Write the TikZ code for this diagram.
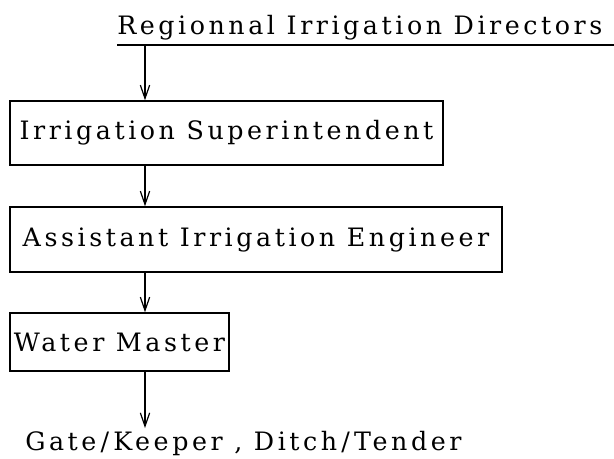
\documentclass[tikz,border=0pt]{standalone}
\usepackage{fontspec}
\setmainfont{DejaVu Serif}
\newfontfamily\orgfont[LetterSpace=14]{DejaVu Serif}
\usetikzlibrary{positioning, arrows.meta, calc}

\begin{document}
\begin{tikzpicture}[
    x=0.75pt, y=-0.75pt,
    post/.style={draw, line width=1.1pt, inner sep=0pt, align=center, font=\orgfont\fontsize{19}{23}\selectfont},
    caption/.style={inner sep=0pt, font=\orgfont\fontsize{19}{23}\selectfont},
    arr/.style={-{Straight Barb[length=10pt, width=7pt]}, line width=0.9pt}
]
\useasboundingbox (0,0) rectangle (614,458);

% Regional directors
\node[caption, anchor=base west] (dir) at (117,34) {Regionnal Irrigation Directors};
\coordinate (ulstart) at (117,45);
\coordinate (ulend) at (614,45);
\draw[line width=1.1pt] (ulstart) -- (ulend);
\coordinate (spine) at (145,45);

% Irrigation Superintendent
\node[post, minimum width=325pt, minimum height=48pt] (sup) at (226.5,133) {Irrigation Superintendent};

% Assistant Irrigation Engineer
\node[post, minimum width=369pt, minimum height=48.75pt] (aie) at (256,239.5) {Assistant Irrigation Engineer};

% Water Master
\node[post, minimum width=164pt, minimum height=43.5pt] (wm) at (119.5,342) {Water Master};

% Gate keeper, ditch tender
\node[caption, anchor=base west] (gk) at (25,450) {Gate\,/\,Keeper , Ditch\,/\,Tender};
\coordinate (gktop) at (145,428);

% Arrows
\draw[arr] (spine) -- (spine |- sup.north);
\draw[arr] (spine |- sup.south) -- (spine |- aie.north);
\draw[arr] (spine |- aie.south) -- (spine |- wm.north);
\draw[arr] (spine |- wm.south) -- (gktop);

\end{tikzpicture}
\end{document}
